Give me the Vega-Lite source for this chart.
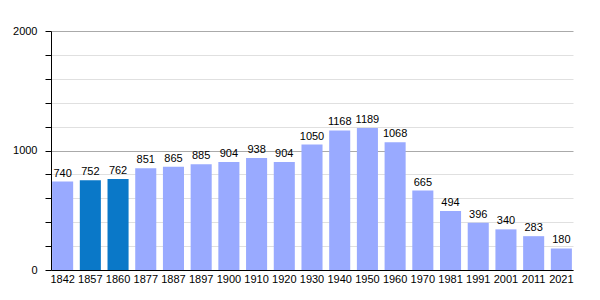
{
  "$schema": "https://vega.github.io/schema/vega-lite/v6.json",
  "width": 522,
  "height": 239,
  "padding": {"left": 12, "top": 25, "right": 5, "bottom": 5},
  "background": "white",
  "config": {"view": {"stroke": null}, "font": "Liberation Sans"},
  "data": {"values": [
    {"year": "1842", "pop": 740, "hl": "n"},
    {"year": "1857", "pop": 752, "hl": "y"},
    {"year": "1860", "pop": 762, "hl": "y"},
    {"year": "1877", "pop": 851, "hl": "n"},
    {"year": "1887", "pop": 865, "hl": "n"},
    {"year": "1897", "pop": 885, "hl": "n"},
    {"year": "1900", "pop": 904, "hl": "n"},
    {"year": "1910", "pop": 938, "hl": "n"},
    {"year": "1920", "pop": 904, "hl": "n"},
    {"year": "1930", "pop": 1050, "hl": "n"},
    {"year": "1940", "pop": 1168, "hl": "n"},
    {"year": "1950", "pop": 1189, "hl": "n"},
    {"year": "1960", "pop": 1068, "hl": "n"},
    {"year": "1970", "pop": 665, "hl": "n"},
    {"year": "1981", "pop": 494, "hl": "n"},
    {"year": "1991", "pop": 396, "hl": "n"},
    {"year": "2001", "pop": 340, "hl": "n"},
    {"year": "2011", "pop": 283, "hl": "n"},
    {"year": "2021", "pop": 180, "hl": "n"}
  ]},
  "encoding": {
    "x": {"field": "year", "type": "ordinal", "sort": null,
      "scale": {"paddingInner": 0.24, "paddingOuter": 0.04},
      "axis": {"title": null, "labelAngle": 0, "ticks": false, "domainColor": "black", "labelColor": "black", "labelFontSize": 11, "labelPadding": 3}},
    "y": {"field": "pop", "type": "quantitative",
      "scale": {"domain": [0, 2000], "nice": false},
      "axis": {"title": null, "values": [0,200,400,600,800,1000,1200,1400,1600,1800,2000],
        "labelExpr": "datum.value % 1000 === 0 ? datum.value : ''",
        "gridColor": {"condition": {"test": "datum.value % 1000 === 0", "value": "#aaaaaa"}, "value": "#e0e0e0"},
        "domainColor": "black", "tickColor": "black", "tickSize": 6, "labelColor": "black", "labelFontSize": 11, "labelPadding": 8}}
  },
  "layer": [
    {"mark": {"type": "bar"},
     "encoding": {"color": {"field": "hl", "type": "nominal", "scale": {"domain": ["n", "y"], "range": ["#99aaff", "#0a78c8"]}, "legend": null}}},
    {"mark": {"type": "text", "baseline": "bottom", "dy": -3, "fontSize": 11, "color": "black"},
     "encoding": {"text": {"field": "pop", "type": "quantitative"}}}
  ]
}
